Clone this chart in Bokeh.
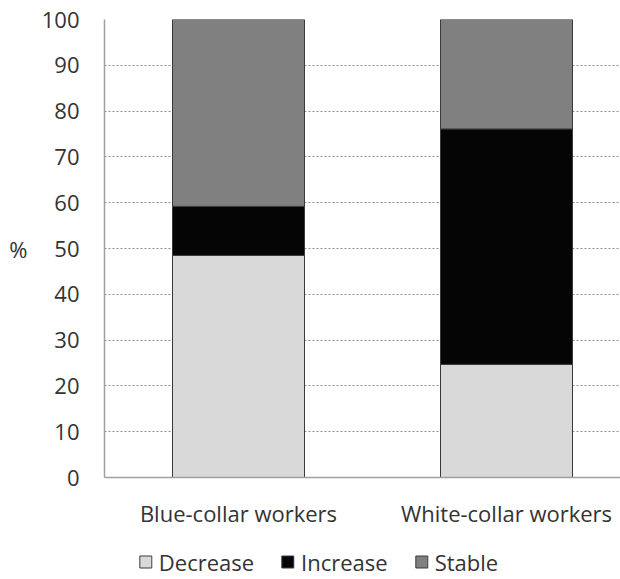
import numpy as np
from bokeh.plotting import figure
from bokeh.models import FixedTicker, Range1d, Legend, LegendItem, LinearAxis
from bokeh.layouts import column
from bokeh.embed import file_html
from bokeh.resources import INLINE

categories = ["Blue-collar workers", "White-collar workers"]
series = ["Decrease", "Increase", "Stable"]
decrease = [48.5, 24.7]
increase = [10.7, 51.4]
stable = [40.8, 23.9]
colors = ["#d9d9d9", "#050505", "#808080"]
y_ticks = list(range(0, 101, 10))
y_title = "%"

FONT = "Open Sans"
FS = "22px"
TXT = "#333333"
EDGE = "#3a3a3a"
x = list(np.arange(len(categories)) + 0.5)

p = figure(width=620, height=544, output_backend="svg", toolbar_location=None,
           x_range=Range1d(0, 516 / 268), y_range=Range1d(0, 100),
           min_border_left=104, min_border_right=0, min_border_top=19,
           min_border_bottom=67)
p.outline_line_color = None

src = dict(x=x, Decrease=decrease, Increase=increase, Stable=stable)
rs = p.vbar_stack(series, x="x", width=132 / 268, color=colors, source=src,
                  line_color=EDGE, line_width=1)

p.xgrid.grid_line_color = None
p.ygrid.grid_line_color = "#909090"
p.ygrid.grid_line_dash = "2 2"
p.ygrid.ticker = FixedTicker(ticks=y_ticks)


def style_axis(ax, standoff):
    ax.major_tick_line_color = None
    ax.minor_tick_line_color = None
    ax.major_tick_out = 0
    ax.major_tick_in = 0
    ax.minor_tick_out = 0
    ax.minor_tick_in = 0
    ax.major_label_standoff = standoff
    ax.major_label_text_font = FONT
    ax.major_label_text_font_size = FS
    ax.major_label_text_color = TXT


p.yaxis.ticker = FixedTicker(ticks=y_ticks)
p.yaxis.axis_line_color = "#a0a0a0"
p.yaxis.axis_line_width = 1.5
style_axis(p.yaxis[0], 25)

# axis title "%" drawn horizontally, as a second left axis with one label at 50
pct = LinearAxis(ticker=FixedTicker(ticks=[50]),
                 major_label_overrides={50: y_title}, axis_line_color=None)
style_axis(pct, 11)
p.add_layout(pct, "left")

p.xaxis.ticker = FixedTicker(ticks=x)
p.xaxis.major_label_overrides = {float(v): c for v, c in zip(x, categories)}
p.xaxis.axis_line_color = "#a0a0a0"
p.xaxis.axis_line_width = 1.5
style_axis(p.xaxis[0], 20)

# legend strip below the chart
leg = figure(width=620, height=35, output_backend="svg", toolbar_location=None,
             x_range=Range1d(0, 1), y_range=Range1d(0, 1),
             x_axis_location=None, y_axis_location=None,
             min_border=0, min_border_left=104, min_border_right=0)
leg.outline_line_color = None
leg.grid.visible = False
leg.axis.visible = False
# off-screen proxies (outside both ranges), only used to draw the legend swatches
dummies = [leg.vbar(x=[-10], top=[-10], bottom=[-11], width=1,
                    fill_color=c, line_color=EDGE)
           for c in colors]
# invisible item that only widens the centred legend on its right side
pad = leg.vbar(x=[], top=[], width=0.1, fill_alpha=0, line_alpha=0)
items = [LegendItem(label=s, renderers=[r]) for s, r in zip(series, dummies)]
items.append(LegendItem(label="\u00a0", renderers=[pad]))
legend = Legend(items=items, orientation="horizontal", location="center",
                glyph_width=15, glyph_height=15, label_standoff=6, spacing=26,
                label_width=41, padding=0, margin=0, border_line_color=None,
                background_fill_alpha=0,
                label_text_font=FONT, label_text_font_size=FS,
                label_text_color=TXT)
leg.add_layout(legend)

layout = column(p, leg, spacing=0)
open("out.html", "w").write(file_html(layout, INLINE))
